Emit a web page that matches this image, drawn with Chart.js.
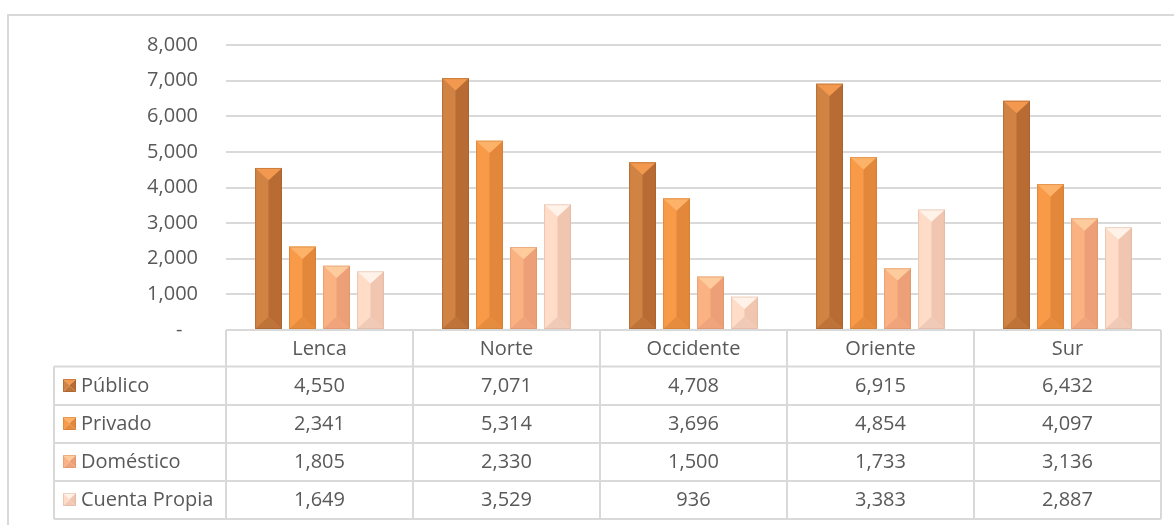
<!DOCTYPE html>
<html>
<head>
<meta charset="utf-8">
<script src="https://cdn.jsdelivr.net/npm/chart.js@4/dist/chart.umd.min.js"></script>
<style>
  html, body { margin: 0; padding: 0; background: #ffffff; }
  #wrap { width: 1174px; height: 525px; position: relative; }
</style>
</head>
<body>
<div id="wrap"><canvas id="c" width="1174" height="525"></canvas></div>
<script>
// ---- Data ----
const categories = ['Lenca', 'Norte', 'Occidente', 'Oriente', 'Sur'];
const seriesNames = ['Público', 'Privado', 'Doméstico', 'Cuenta Propia'];
const publico = [4550, 7071, 4708, 6915, 6432];
const privado = [2341, 5314, 3696, 4854, 4097];
const domestico = [1805, 2330, 1500, 1733, 3136];
const cuentaPropia = [1649, 3529, 936, 3383, 2887];
const yMin = 0;
const yMax = 8000;
const yStep = 1000;

// ---- Styles ----
const FONT = "'Open Sans', 'DejaVu Sans', sans-serif";
const TEXT = '#595959';
const LINE = '#D9D9D9';
// [top, left, right, bottom, edge] bevel shades per series
const shades = [
  ['#F2994F', '#D08343', '#B86C33', '#BE7439', '#9A5A2A'],
  ['#FDB26A', '#F89A47', '#E3883A', '#E68C3E', '#C9772F'],
  ['#FDCB9C', '#FBB283', '#EDA077', '#EFA47C', '#D48D66'],
  ['#FFF2E8', '#FEDCC7', '#F0C6B1', '#F0CAB6', '#D6AE9A']
];
const ROW_H = 38;
const TABLE_LEFT = 54;

const seriesData = [publico, privado, domestico, cuentaPropia];

function drawBevel(ctx, left, right, top, bottom, sh) {
  const w = right - left;
  const cx = left + w / 2;
  const d = Math.min(w * 0.46, (bottom - top) / 2);
  // left face
  ctx.fillStyle = sh[1];
  ctx.beginPath();
  ctx.moveTo(left, top); ctx.lineTo(cx, top + d); ctx.lineTo(cx, bottom - d); ctx.lineTo(left, bottom); ctx.closePath(); ctx.fill();
  // right face
  ctx.fillStyle = sh[2];
  ctx.beginPath();
  ctx.moveTo(right, top); ctx.lineTo(cx, top + d); ctx.lineTo(cx, bottom - d); ctx.lineTo(right, bottom); ctx.closePath(); ctx.fill();
  // top
  ctx.fillStyle = sh[0];
  ctx.beginPath();
  ctx.moveTo(left, top); ctx.lineTo(right, top); ctx.lineTo(cx, top + d); ctx.closePath(); ctx.fill();
  // bottom
  ctx.fillStyle = sh[3];
  ctx.beginPath();
  ctx.moveTo(left, bottom); ctx.lineTo(right, bottom); ctx.lineTo(cx, bottom - d); ctx.closePath(); ctx.fill();
  // outline
  ctx.strokeStyle = sh[4];
  ctx.globalAlpha = 0.45;
  ctx.lineWidth = 1;
  ctx.strokeRect(left + 0.5, top + 0.5, w - 1, bottom - top - 1);
  ctx.globalAlpha = 1;
}

const bevelPlugin = {
  id: 'bevel',
  afterDatasetsDraw(chart) {
    const ctx = chart.ctx;
    ctx.save();
    chart.data.datasets.forEach((ds, di) => {
      const meta = chart.getDatasetMeta(di);
      meta.data.forEach(bar => {
        const p = bar.getProps(['x', 'y', 'base', 'width'], true);
        drawBevel(ctx, p.x - p.width / 2, p.x + p.width / 2, p.y, p.base, shades[di]);
      });
    });
    ctx.restore();
  }
};

const framePlugin = {
  id: 'frame',
  beforeDraw(chart) {
    const ctx = chart.ctx;
    ctx.save();
    ctx.fillStyle = '#ffffff';
    ctx.fillRect(0, 0, chart.width, chart.height);
    ctx.strokeStyle = LINE;
    ctx.lineWidth = 2;
    ctx.strokeRect(8, 15, chart.width + 10, chart.height + 10);
    ctx.restore();
  }
};

const tablePlugin = {
  id: 'dataTable',
  afterDraw(chart) {
    const ctx = chart.ctx;
    const area = chart.chartArea;
    const xs = chart.scales.x;
    const n = categories.length;
    const colW = (area.right - area.left) / n;
    const top = area.bottom;
    const bottom = top + ROW_H * (seriesNames.length + 1) - 1;
    ctx.save();
    ctx.strokeStyle = LINE;
    ctx.lineWidth = 2;
    ctx.beginPath();
    for (let i = 0; i <= n; i++) {
      const x = area.left + i * colW;
      ctx.moveTo(x, top); ctx.lineTo(x, bottom);
    }
    ctx.moveTo(area.left, top); ctx.lineTo(area.right, top);
    for (let k = 1; k <= seriesNames.length + 1; k++) {
      const y = top + k * ROW_H - (k === 1 ? 1.5 : 1);
      ctx.moveTo(TABLE_LEFT, y); ctx.lineTo(area.right, y);
    }
    ctx.moveTo(TABLE_LEFT, top + ROW_H - 1.5); ctx.lineTo(TABLE_LEFT, bottom);
    ctx.stroke();

    ctx.fillStyle = TEXT;
    ctx.font = '20px ' + FONT;
    ctx.textBaseline = 'middle';
    ctx.textAlign = 'center';
    categories.forEach((c, i) => {
      ctx.fillText(c, xs.getPixelForValue(i), top + ROW_H / 2);
    });
    seriesNames.forEach((s, r) => {
      const yc = top + (r + 1.5) * ROW_H - 1;
      ctx.textAlign = 'center';
      ctx.fillStyle = TEXT;
      seriesData[r].forEach((v, i) => {
        ctx.fillText(v.toLocaleString('en-US'), xs.getPixelForValue(i), yc);
      });
      // legend key
      drawBevel(ctx, 63, 76, yc - 7, yc + 6, shades[r]);
      ctx.fillStyle = TEXT;
      ctx.textAlign = 'left';
      ctx.fillText(s, 81, yc);
    });
    ctx.restore();
  }
};

const chart = new Chart(document.getElementById('c'), {
  type: 'bar',
  data: {
    labels: categories,
    datasets: seriesNames.map((name, i) => ({
      label: name,
      data: seriesData[i],
      backgroundColor: shades[i][1],
      borderWidth: 0,
      categoryPercentage: 0.727,
      barPercentage: 0.79
    }))
  },
  options: {
    responsive: false,
    animation: false,
    layout: { padding: { left: 8, right: 13, top: 45, bottom: 195 } },
    plugins: { legend: { display: false }, tooltip: { enabled: false } },
    scales: {
      x: { display: false, offset: true, grid: { display: false } },
      y: {
        min: yMin, max: yMax,
        border: { display: false },
        grid: { color: LINE, lineWidth: 2, drawTicks: false },
        afterFit(scale) { scale.width = 218; },
        ticks: {
          stepSize: yStep,
          padding: 28,
          color: TEXT,
          font: { family: FONT, size: 20 },
          callback: v => v === 0 ? '-   ' : v.toLocaleString('en-US')
        }
      }
    }
  },
  plugins: [framePlugin, bevelPlugin, tablePlugin]
});
</script>
</body>
</html>
